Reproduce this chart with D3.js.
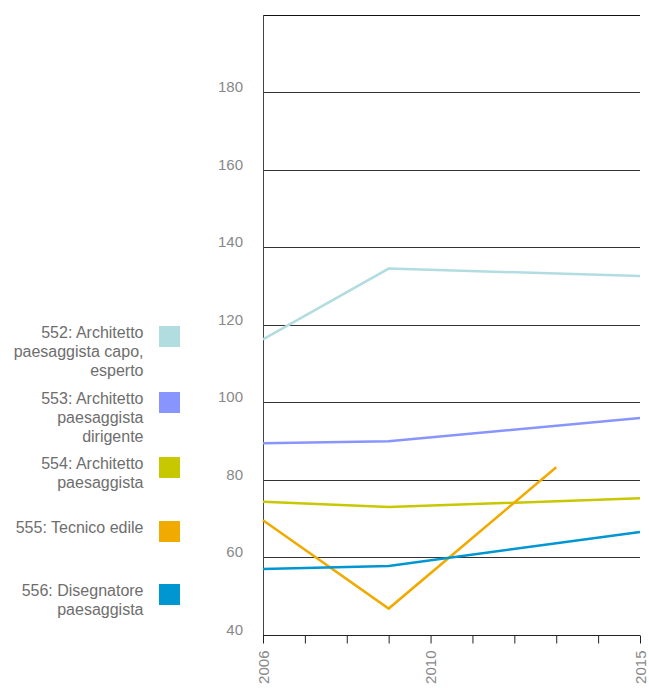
<!DOCTYPE html>
<html>
<head>
<meta charset="utf-8">
<script src="https://cdn.jsdelivr.net/npm/d3@7"></script>
<style>
  html, body { margin: 0; padding: 0; background: #fff; }
  svg { display: block; font-family: "Liberation Sans", Arial, Helvetica, sans-serif; }
</style>
</head>
<body>
<svg id="chart" width="649" height="688"></svg>
<script>
// ---- data ----
const years = [2006, 2007, 2008, 2009, 2010, 2011, 2012, 2013, 2014, 2015];
const xTickLabels = [2006, 2010, 2015];
const yTicks = [40, 60, 80, 100, 120, 140, 160, 180, 200];
const yTickLabels = [40, 60, 80, 100, 120, 140, 160, 180];

const seriesNames = [
  "552: Architetto paesaggista capo, esperto",
  "553: Architetto paesaggista dirigente",
  "554: Architetto paesaggista",
  "555: Tecnico edile",
  "556: Disegnatore paesaggista"
];
const legendLines = [
  ["552: Architetto", "paesaggista capo,", "esperto"],
  ["553: Architetto", "paesaggista", "dirigente"],
  ["554: Architetto", "paesaggista"],
  ["555: Tecnico edile"],
  ["556: Disegnatore", "paesaggista"]
];
const seriesColors = ["#b2dde0", "#8895ff", "#c8c800", "#f0aa00", "#0096d2"];

const s552 = [[2006, 116.2], [2009, 134.5], [2015, 132.6]];
const s553 = [[2006, 89.4], [2009, 89.9], [2015, 95.9]];
const s554 = [[2006, 74.3], [2009, 72.9], [2015, 75.2]];
const s555 = [[2006, 69.5], [2009, 46.7], [2013, 83.2]];
const s556 = [[2006, 56.9], [2009, 57.7], [2015, 66.5]];
const seriesData = [s552, s553, s554, s555, s556];

// ---- layout ----
const svg = d3.select("#chart");
const pL = 263, pR = 640, pT = 15, pB = 634.5;

const x = d3.scaleLinear().domain([2006, 2015]).range([pL, pR]);
const y = d3.scaleLinear().domain([40, 200]).range([pB, pT]);

// gridlines
svg.append("g")
  .selectAll("line")
  .data(yTicks.filter(d => d > 40))
  .join("line")
  .attr("x1", pL).attr("x2", pR)
  .attr("y1", d => Math.round(y(d)) + 0.5).attr("y2", d => Math.round(y(d)) + 0.5)
  .attr("stroke", d => d === 200 ? "#111" : "#333")
  .attr("stroke-width", 1);

// y axis line
svg.append("line")
  .attr("x1", pL + 0.5).attr("x2", pL + 0.5)
  .attr("y1", pT).attr("y2", pB + 8)
  .attr("stroke", "#444").attr("stroke-width", 1);

// y tick labels
svg.append("g")
  .selectAll("text")
  .data(yTickLabels)
  .join("text")
  .attr("x", 243)
  .attr("y", d => y(d))
  .attr("text-anchor", "end")
  .attr("fill", "#888")
  .attr("font-size", 15)
  .text(d => d);

// x axis
const xAxis = d3.axisBottom(x)
  .tickValues(years)
  .tickSize(8)
  .tickFormat(d => xTickLabels.includes(d) ? d : "");
const gx = svg.append("g")
  .attr("transform", `translate(0,${Math.round(pB) + 0.5})`)
  .call(xAxis);
gx.select(".domain").attr("stroke", "#222").attr("d", `M${pL},0H${pR}`);
gx.selectAll(".tick line").attr("stroke", "#222");
gx.selectAll(".tick text")
  .attr("fill", "#888")
  .attr("font-size", 15)
  .attr("font-family", "'Liberation Sans', Arial, sans-serif")
  .attr("text-anchor", "end")
  .attr("transform", "rotate(-90)")
  .attr("x", -15)
  .attr("y", 0)
  .attr("dy", "0.36em");

// lines
const line = d3.line().x(d => x(d[0])).y(d => y(d[1]));
svg.append("g")
  .selectAll("path")
  .data(seriesData)
  .join("path")
  .attr("d", line)
  .attr("fill", "none")
  .attr("stroke", (d, i) => seriesColors[i])
  .attr("stroke-width", 2.5)
  .attr("stroke-linejoin", "miter");

// legend
const legendTops = [326, 392, 457, 521, 584];
const lg = svg.append("g");
seriesNames.forEach((name, i) => {
  const g = lg.append("g").attr("transform", `translate(0,${legendTops[i]})`);
  g.append("rect")
    .attr("x", 159).attr("y", 0)
    .attr("width", 21).attr("height", 21)
    .attr("fill", seriesColors[i]);
  const t = g.append("text")
    .attr("text-anchor", "end")
    .attr("fill", "#6e6e6e")
    .attr("font-size", 16);
  legendLines[i].forEach((ln, j) => {
    t.append("tspan").attr("x", 143.5).attr("y", 12 + j * 19).text(ln);
  });
});
</script>
</body>
</html>
